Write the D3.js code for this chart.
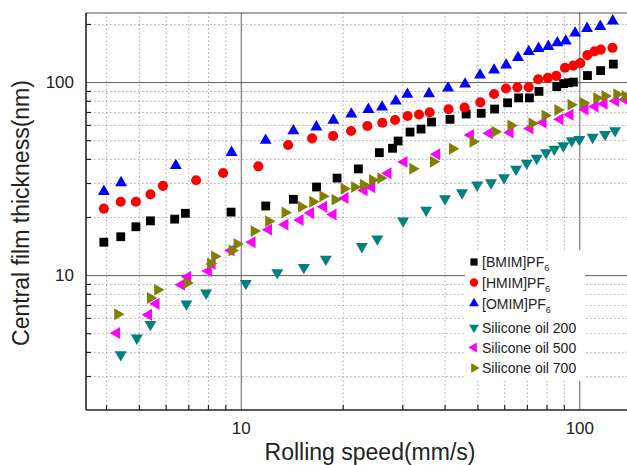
<!DOCTYPE html>
<html>
<head>
  <title>Central film thickness vs rolling speed</title>
  <script src="https://d3js.org/d3.v7.min.js"></script>
  <style>
    body { margin: 0; padding: 0; background: #fff; overflow: hidden; }
    svg { display: block; font-family: "Liberation Sans", Arial, sans-serif; }
  </style>
</head>
<body>
  <svg width="627" height="465"></svg>

  <script>
    // values (speed in mm/s, thickness in nm)
    const bmimSpeed = [3.94, 4.42, 4.90, 5.41, 6.38, 6.86, 9.36, 11.85, 14.30, 16.74, 19.25, 22.25, 25.66, 28.07, 29.15, 31.62, 34.08, 36.6, 41.5, 46.3, 51.3, 56.2, 61.4, 66.2, 71.2, 76.0, 85.8, 89.8, 92.9, 96.0, 105.7, 115.6, 126.0];
    const bmimThick = [14.8, 15.8, 17.8, 19.1, 19.5, 20.9, 21.2, 22.8, 24.7, 28.6, 31.8, 35.5, 43.1, 45.4, 49.5, 55.1, 57.1, 62.1, 64.1, 68.3, 68.9, 72.5, 78.1, 82.8, 82.8, 89.5, 94.8, 98.2, 99.2, 100, 108.1, 114.7, 123.9];

    const hmimSpeed = [3.94, 4.42, 4.90, 5.41, 5.89, 7.38, 8.87, 11.27, 13.80, 16.24, 18.74, 21.17, 23.66, 26.19, 28.56, 31.10, 33.62, 36.12, 41.09, 45.81, 51.0, 56.0, 60.7, 65.6, 70.9, 75.6, 80.7, 85.5, 90.7, 96.0, 100.7, 105.6, 110.9, 115.7, 125.3];
    const hmimThick = [22.1, 24.0, 24.0, 26.2, 29.0, 31.0, 33.8, 36.6, 47.2, 51.1, 52.6, 55.8, 59.2, 61.6, 63.6, 66.7, 67.9, 69.7, 72.3, 73.8, 78.5, 86.7, 92.6, 93.9, 94.2, 103.4, 105.1, 107.7, 118.6, 121.7, 125.4, 138.0, 144.2, 147.3, 150.5];

    const omimSpeed = [3.94, 4.43, 6.43, 9.39, 11.84, 14.30, 16.72, 18.77, 21.21, 23.82, 26.14, 28.70, 31.05, 35.98, 40.95, 45.97, 50.9, 56.0, 60.8, 65.9, 70.9, 75.8, 81.0, 86.1, 91.2, 97.2, 105.4, 115.3, 125.5];
    const omimThick = [27.1, 30.1, 36.9, 43.2, 49.9, 55.9, 58.5, 63.4, 68.3, 72.1, 74.2, 79.7, 86.4, 87.0, 93.1, 97.7, 108.7, 115.4, 122.4, 133.9, 143.9, 149.4, 153.0, 159.7, 163.0, 179.3, 189.6, 194.2, 207.4];

    const si200Speed = [4.42, 4.93, 5.41, 6.91, 7.90, 10.35, 12.82, 15.36, 17.83, 22.78, 25.31, 30.16, 35.27, 40.12, 45.04, 49.9, 54.86, 59.95, 65.02, 69.93, 74.84, 79.72, 84.36, 89.7, 95.0, 100, 109.5, 119.1, 127.5];
    const si200Thick = [3.87, 4.72, 5.55, 7.09, 8.07, 9.05, 10.3, 10.97, 12.1, 14.06, 15.4, 19.1, 21.7, 24.9, 26.7, 29.3, 30.1, 32.0, 35.4, 38.0, 40.3, 43.1, 44.9, 46.8, 49.7, 50.5, 51.8, 53.6, 56.0];

    const si500Speed = [4.30, 5.34, 5.62, 6.68, 6.97, 8.02, 8.23, 9.36, 10.80, 12.08, 13.51, 14.97, 16.07, 17.56, 18.74, 20.32, 23.13, 24.37, 27.23, 30.36, 37.93, 47.7, 54.2, 62.44, 71.5, 78.12, 87.70, 93.87, 104.0, 111.3, 118.3, 127.9, 136.5];
    const si500Thick = [5.01, 6.23, 7.10, 8.91, 9.80, 10.5, 11.4, 13.4, 14.8, 17.2, 18.3, 19.3, 21.0, 22.6, 20.6, 25.1, 27.5, 28.5, 33.7, 38.6, 42.3, 53.2, 54.3, 54.8, 57.5, 61.7, 64.2, 67.8, 72.1, 74.7, 77.3, 79.7, 81.2];

    const si700Speed = [4.33, 5.41, 5.68, 6.94, 8.14, 8.37, 9.43, 9.75, 10.95, 12.08, 13.51, 15.10, 16.32, 17.48, 18.98, 20.19, 21.68, 23.02, 24.50, 25.91, 32.21, 37.06, 42.2, 48.53, 56.4, 62.8, 72.5, 79.2, 86.4, 94.5, 102.8, 112.6, 119.1, 129.0, 136.5];
    const si700Thick = [6.27, 7.60, 8.39, 9.09, 11.5, 12.5, 13.4, 14.5, 16.9, 19.0, 21.1, 22.6, 24.0, 25.6, 24.6, 28.0, 28.6, 29.4, 31.1, 31.8, 35.6, 38.7, 45.1, 49.1, 55.3, 59.6, 61.1, 67.1, 71.6, 76.2, 78.0, 82.6, 84.8, 86.5, 84.7];

    const xMajor = [10, 100];
    const xMinor = [4, 5, 6, 7, 8, 9, 20, 30, 40, 50, 60, 70, 80, 90];
    const yMajor = [10, 100];
    const yMinor = [3, 4, 5, 6, 7, 8, 9, 20, 30, 40, 50, 60, 70, 80, 90, 200];

    const series = [
      { name: "[BMIM]PF", sub: "6", x: bmimSpeed, y: bmimThick, color: "#000000", shape: "square" },
      { name: "[HMIM]PF", sub: "6", x: hmimSpeed, y: hmimThick, color: "#ff0000", shape: "circle" },
      { name: "[OMIM]PF", sub: "6", x: omimSpeed, y: omimThick, color: "#0000ff", shape: "up" },
      { name: "Silicone oil 200", sub: "", x: si200Speed, y: si200Thick, color: "#008080", shape: "down" },
      { name: "Silicone oil 500", sub: "", x: si500Speed, y: si500Thick, color: "#ff00ff", shape: "left" },
      { name: "Silicone oil 700", sub: "", x: si700Speed, y: si700Thick, color: "#808000", shape: "right" }
    ];

    const svg = d3.select("svg");
    const margin = { top: 13, right: 627, bottom: 410, left: 86 };

    const xScale = d3.scaleLog().domain([3.49, 138.3]).range([margin.left, margin.right]);
    const yScale = d3.scaleLog().domain([2, 228]).range([margin.bottom, margin.top]);
    const plotW = margin.right - margin.left, plotH = margin.bottom - margin.top;

    // minor grid, dotted
    const gx = svg.append("g")
      .attr("transform", "translate(0," + margin.bottom + ")")
      .call(d3.axisBottom(xScale).tickValues(xMinor).tickSize(-plotH).tickFormat(""));
    const gy = svg.append("g")
      .attr("transform", "translate(" + margin.left + ",0)")
      .call(d3.axisLeft(yScale).tickValues(yMinor).tickSize(-plotW).tickFormat(""));
    [gx, gy].forEach(g => {
      g.select(".domain").remove();
      g.selectAll("line").attr("stroke", "#a8a8a8").attr("stroke-width", 1).attr("stroke-dasharray", "1.5,2.5");
    });

    // major grid, solid
    const gxm = svg.append("g")
      .attr("transform", "translate(0," + margin.bottom + ")")
      .call(d3.axisBottom(xScale).tickValues(xMajor).tickSize(-plotH).tickFormat(""));
    const gym = svg.append("g")
      .attr("transform", "translate(" + margin.left + ",0)")
      .call(d3.axisLeft(yScale).tickValues(yMajor).tickSize(-plotW).tickFormat(""));
    [gxm, gym].forEach(g => {
      g.select(".domain").remove();
      g.selectAll("line").attr("stroke", "#606060").attr("stroke-width", 1);
    });

    // legend background hides the grid behind it
    svg.append("rect")
      .attr("x", 465).attr("y", 250)
      .attr("width", 120).attr("height", 131)
      .attr("fill", "#fff");

    // inner tick marks
    const tx = svg.append("g")
      .attr("transform", "translate(0," + margin.bottom + ")")
      .call(d3.axisBottom(xScale).tickValues(xMinor).tickSize(-5).tickFormat(""));
    const ty = svg.append("g")
      .attr("transform", "translate(" + margin.left + ",0)")
      .call(d3.axisLeft(yScale).tickValues(yMinor).tickSize(-5).tickFormat(""));
    [tx, ty].forEach(g => {
      g.select(".domain").remove();
      g.selectAll("line").attr("stroke", "#222").attr("stroke-width", 1.2);
    });

    // tick labels
    const lx = svg.append("g")
      .attr("transform", "translate(0," + margin.bottom + ")")
      .call(d3.axisBottom(xScale).tickValues(xMajor).tickSize(0).tickPadding(12).tickFormat(d3.format("d")));
    const ly = svg.append("g")
      .attr("transform", "translate(" + margin.left + ",0)")
      .call(d3.axisLeft(yScale).tickValues(yMajor).tickSize(0).tickPadding(12).tickFormat(d3.format("d")));
    [lx, ly].forEach(g => {
      g.select(".domain").remove();
      g.selectAll("text").attr("font-size", "17px").attr("fill", "#222")
        .attr("font-family", "'Liberation Sans', Arial, sans-serif");
    });

    // frame
    svg.append("line").attr("x1", margin.left).attr("x2", margin.right).attr("y1", margin.top).attr("y2", margin.top)
      .attr("stroke", "#555").attr("stroke-width", 1.2);
    svg.append("line").attr("x1", margin.left).attr("x2", margin.left).attr("y1", margin.top).attr("y2", margin.bottom)
      .attr("stroke", "#222").attr("stroke-width", 1.6);
    svg.append("line").attr("x1", margin.left).attr("x2", margin.right).attr("y1", margin.bottom).attr("y2", margin.bottom)
      .attr("stroke", "#222").attr("stroke-width", 1.6);

    // markers
    function symbolFor(shape, scale) {
      const k = scale || 1;
      if (shape === "square") return { path: d3.symbol(d3.symbolSquare, 78 * k * k)(), rot: 0 };
      if (shape === "circle") return { path: d3.symbol(d3.symbolCircle, 80 * k * k)(), rot: 0 };
      const rot = { up: 0, down: 180, left: -90, right: 90 }[shape];
      return { path: d3.symbol(d3.symbolTriangle, 62 * k * k)(), rot: rot };
    }

    series.forEach(s => {
      const sym = symbolFor(s.shape);
      const pts = s.x.map((v, i) => ({ x: v, y: s.y[i] }));
      svg.append("g").selectAll("path")
        .data(pts)
        .enter().append("path")
          .attr("d", sym.path)
          .attr("transform", d => "translate(" + xScale(d.x) + "," + yScale(d.y) + ") rotate(" + sym.rot + ")")
          .attr("fill", s.color);
    });

    // legend
    const rowY = [262, 282.5, 303.5, 327.5, 347.5, 368];
    series.forEach((s, i) => {
      const sym = symbolFor(s.shape, 0.82);
      svg.append("path")
        .attr("d", sym.path)
        .attr("transform", "translate(474," + rowY[i] + ") rotate(" + sym.rot + ")")
        .attr("fill", s.color);
      const t = svg.append("text")
        .attr("x", 482)
        .attr("y", rowY[i] + 5)
        .attr("font-size", "14px")
        .attr("fill", "#222")
        .text(s.name);
      if (s.sub) {
        t.append("tspan").attr("dy", 4).attr("font-size", "9px").text(s.sub);
      }
    });

    // axis titles
    svg.append("text")
      .attr("x", 370)
      .attr("y", 460)
      .attr("text-anchor", "middle")
      .attr("font-size", "23px")
      .attr("fill", "#222")
      .text("Rolling speed(mm/s)");

    svg.append("text")
      .attr("transform", "translate(29,213) rotate(-90)")
      .attr("text-anchor", "middle")
      .attr("font-size", "23px")
      .attr("fill", "#222")
      .text("Central film thickness(nm)");
  </script>
</body>
</html>
